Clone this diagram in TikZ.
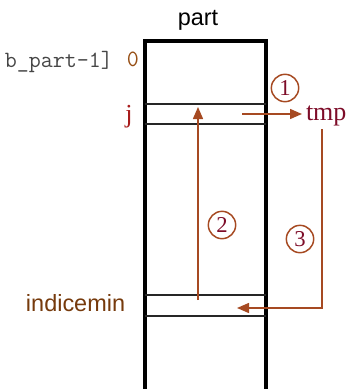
\documentclass[tikz,border=0pt]{standalone}
\usepackage{fontspec}
\setmainfont{Liberation Serif}
\setsansfont{Liberation Sans}
\usetikzlibrary{arrows.meta}
\definecolor{arrowc}{RGB}{166,74,34}
\definecolor{tmpc}{RGB}{125,12,40}
\definecolor{jc}{RGB}{168,28,28}
\definecolor{indc}{RGB}{118,58,12}
\definecolor{zeroc}{RGB}{150,78,20}
\definecolor{monoc}{RGB}{70,70,70}
\tikzset{
  x=0.75pt, y=-0.75pt,
  lbl/.style={inner sep=0pt, outer sep=0pt},
  sanslbl/.style={lbl, font=\sffamily\fontsize{17.6}{20}\selectfont},
  seriflbl/.style={lbl, font=\fontsize{19.5}{22}\selectfont},
  monolbl/.style={lbl, font=\ttfamily\fontsize{17.5}{20}\selectfont},
  stepnum/.style={circle, draw=arrowc, line width=1.1pt, minimum size=20.5pt,
    inner sep=0pt, text=tmpc, font=\fontsize{17}{20}\selectfont},
  rowline/.style={line width=1.5pt, draw=black!85},
  flow/.style={draw=arrowc, line width=1.1pt,
    -{Triangle[length=9pt,width=7.5pt]}},
}
\begin{document}
\begin{tikzpicture}
\useasboundingbox (0,0) rectangle (358,389);

% array outline, running off the lower edge
\draw[line width=3pt] (145,400) -- (145,41) -- (266,41) -- (266,400);
% cell j and cell indicemin
\draw[rowline] (145,104) -- (266,104);
\draw[rowline] (145,124) -- (266,124);
\draw[rowline] (145,295) -- (266,295);
\draw[rowline] (145,316) -- (266,316);

% labels
\node[sanslbl, anchor=base] (part) at (198,26) {part};
\node[monolbl, anchor=base east, text=monoc] (last) at (113,67) {b\_part-1]};
\node[monolbl, anchor=base, text=zeroc] (zero) at (133,66) {0};
\node[seriflbl, anchor=base, text=jc] (j) at (129,122) {j};
\node[seriflbl, anchor=base west, text=tmpc] (tmp) at (306,120) {tmp};
\node[sanslbl, anchor=base west, text=indc] (imin) at (26,311) {indicemin};

% step numbers
\node[stepnum] (s1) at (285,88) {1};
\node[stepnum] (s2) at (222,225) {2};
\node[stepnum] (s3) at (300,239) {3};

% connector end points
\coordinate (jout) at (242,114);
\coordinate (tmpin) at (302,114);
\coordinate (minup) at (198,300);
\coordinate (jin) at (198,107);
\coordinate (tmpout) at (322,129);
\coordinate (bend) at (322,308);
\coordinate (minin) at (237,308);

% 1: j -> tmp, 2: indicemin -> j, 3: tmp -> indicemin
\draw[flow] (jout) -- (tmpin);
\draw[flow] (minup) -- (jin);
\draw[flow] (tmpout) -- (bend) -- (minin);
\end{tikzpicture}
\end{document}
